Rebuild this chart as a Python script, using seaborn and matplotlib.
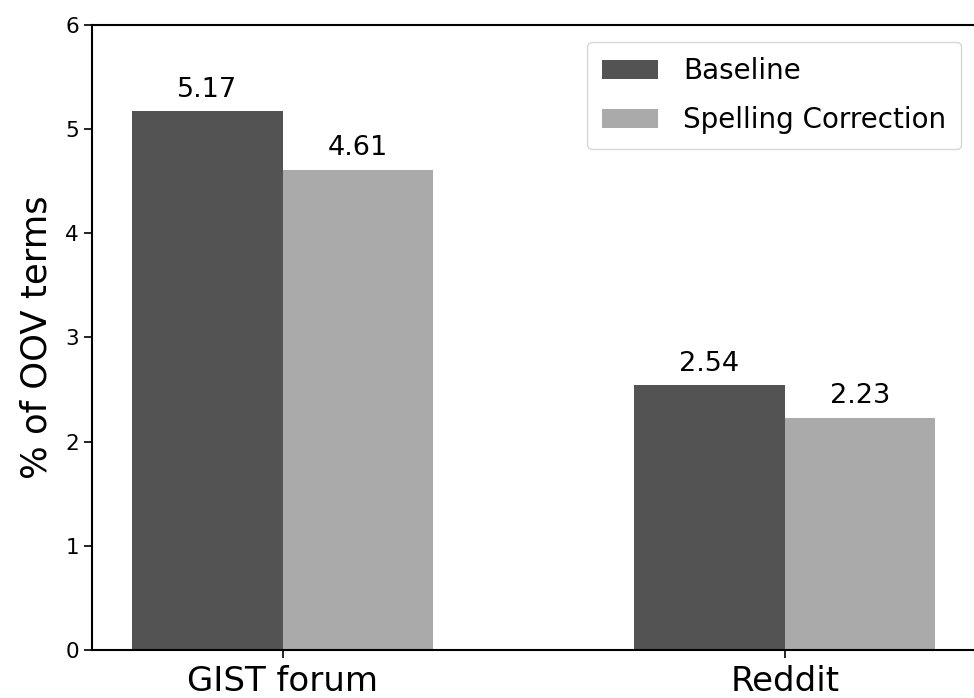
import matplotlib
matplotlib.use("Agg")
import matplotlib.pyplot as plt
import seaborn as sns
import pandas as pd

# data ------------------------------------------------------------
datasets = ["GIST forum", "Reddit"]
methods = ["Baseline", "Spelling Correction"]
baseline = [5.17, 2.54]
spelling = [4.61, 2.23]
colors = ["#535353", "#aaaaaa"]

df = pd.DataFrame({
    "dataset": datasets * 2,
    "method": [methods[0]] * 2 + [methods[1]] * 2,
    "oov": baseline + spelling,
})

fig = plt.figure(figsize=(9.74, 6.98), dpi=100)
ax = fig.add_axes([0.0945, 0.0688, 0.907, 0.8954])

sns.barplot(data=df, x="dataset", y="oov", hue="method", palette=colors,
            width=0.6, saturation=1, errorbar=None, ax=ax)

# 수치 입력
for c in ax.containers:
    ax.bar_label(c, fmt="%.2f", padding=6, fontsize=19.5)

ax.set_xlim(-0.38, 1.38)
ax.set_ylim(0, 6)
ax.set_xlabel("")
ax.set_ylabel("% of OOV terms", fontsize=25.5, labelpad=8)
ax.tick_params(axis="y", labelsize=15.5, length=6, width=1.2)
ax.tick_params(axis="x", labelsize=24.5, length=6, width=1.2, pad=5)
for s in ax.spines.values():
    s.set_linewidth(1.5)

ax.legend(title=None, loc="upper right", fontsize=20, handlelength=2.0,
          handletextpad=0.9, borderpad=0.55, labelspacing=0.75,
          borderaxespad=0, bbox_to_anchor=(0.984, 0.973))

fig.savefig("out.png", dpi=100)
